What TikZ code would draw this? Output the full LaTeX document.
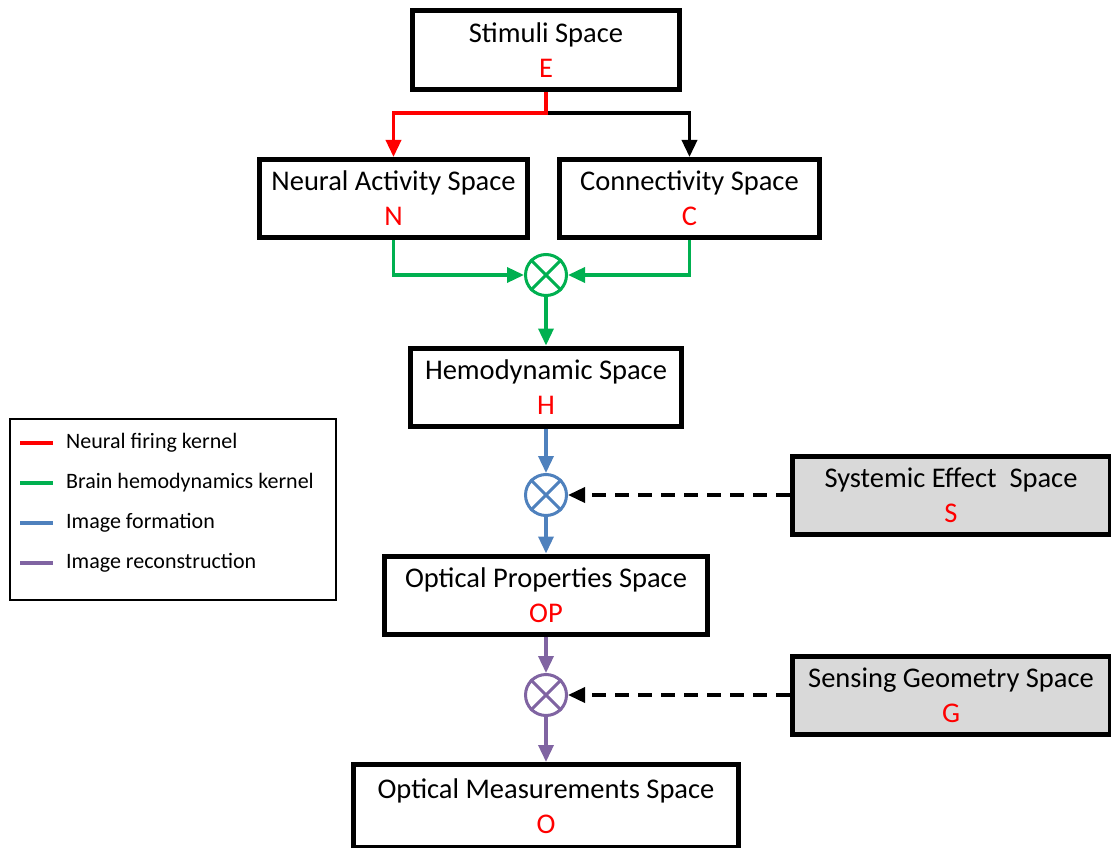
\documentclass[tikz,border=0pt]{standalone}
\usepackage{fontspec}
\setmainfont{Carlito}
\usepackage{xcolor}
\usepackage{tikz}
\usetikzlibrary{arrows.meta}
\definecolor{firing}{HTML}{FF0000}
\definecolor{hemo}{HTML}{00B050}
\definecolor{imgform}{HTML}{4F81BD}
\definecolor{imgrec}{HTML}{8064A2}
\definecolor{sysgray}{HTML}{D9D9D9}
\newcommand{\symb}[1]{\\\textcolor{red}{#1}}

\begin{document}
\begin{tikzpicture}[x=1pt,y=-1pt,
    spacebox/.style={rectangle,draw,line width=5pt,minimum height=78pt,inner sep=0pt,
                     align=center,font=\fontsize{28.5}{35}\selectfont},
    extbox/.style={spacebox,fill=sysgray},
    mult/.style={circle,draw,line width=3pt,minimum size=41pt,inner sep=0pt},
    flow/.style={-{Triangle[length=17pt,width=15pt]},line width=3.5pt},
    feed/.style={-{Triangle[length=17pt,width=15pt]},line width=3.5pt,dash pattern=on 14pt off 9pt}
]
\useasboundingbox (0,0) rectangle (1111,848);

% spaces
\node[spacebox,minimum width=267pt,minimum height=79pt] (stimuli) at (546,50)    {Stimuli Space\symb{E}};
\node[spacebox,minimum width=268pt] (neural)   at (393.5,198.5) {Neural Activity Space\symb{N}};
\node[spacebox,minimum width=260pt] (conn)     at (689.5,198.5) {Connectivity Space\symb{C}};
\node[spacebox,minimum width=271pt] (hemobox)  at (546,387)     {Hemodynamic Space\symb{H}};
\node[spacebox,minimum width=323pt] (optprop)  at (546,595)     {Optical Properties Space\symb{OP}};
\node[spacebox,minimum width=385pt,minimum height=83pt] (optmeas) at (546,806) {Optical Measurements Space\symb{O}};
\node[extbox,minimum width=318pt] (systemic) at (951,495)  {Systemic Effect~ Space\symb{S}};
\node[extbox,minimum width=318pt] (sensing)  at (951,695)  {Sensing Geometry Space\symb{G}};

% multipliers
\node[mult,hemo]    (gmult) at (546,275) {};
\node[mult,imgform] (bmult) at (546,495) {};
\node[mult,imgrec]  (pmult) at (546,695) {};
\foreach \m/\col in {gmult/hemo,bmult/imgform,pmult/imgrec}{
  \draw[\col,line width=3pt] (\m.north west) -- (\m.south east);
  \draw[\col,line width=3pt] (\m.north east) -- (\m.south west);
}

% connectors
\coordinate (split) at (546,113);
\draw[flow]        (split) -| (conn.north);
\draw[flow,firing] (stimuli.south) -- (split) -| (neural.north);
\draw[flow,hemo] (neural.south) |- (gmult.west);
\draw[flow,hemo] (conn.south) |- (gmult.east);
\draw[flow,hemo] (gmult.south) -- (hemobox.north);
\draw[flow,imgform] (hemobox.south) -- (bmult.north);
\draw[flow,imgform] (bmult.south) -- (optprop.north);
\draw[flow,imgrec] (optprop.south) -- (pmult.north);
\draw[flow,imgrec] (pmult.south) -- (optmeas.north);
\draw[feed] (systemic.west) -- (bmult.east);
\draw[feed] (sensing.west) -- (pmult.east);

% legend
\node[rectangle,draw,line width=2.5pt,minimum width=326pt,minimum height=181pt] (legend) at (173,509.5) {};
\foreach \col/\lab [count=\i] in {firing/Neural firing kernel,hemo/Brain hemodynamics kernel,
                                  imgform/Image formation,imgrec/Image reconstruction}{
  \draw[\col,line width=4.5pt] (20,403+40*\i) -- (53,403+40*\i);
  \node[anchor=west,inner sep=0pt,font=\fontsize{22}{26}\selectfont] (key\i) at (66,403+40*\i) {\lab};
}
\end{tikzpicture}
\end{document}
